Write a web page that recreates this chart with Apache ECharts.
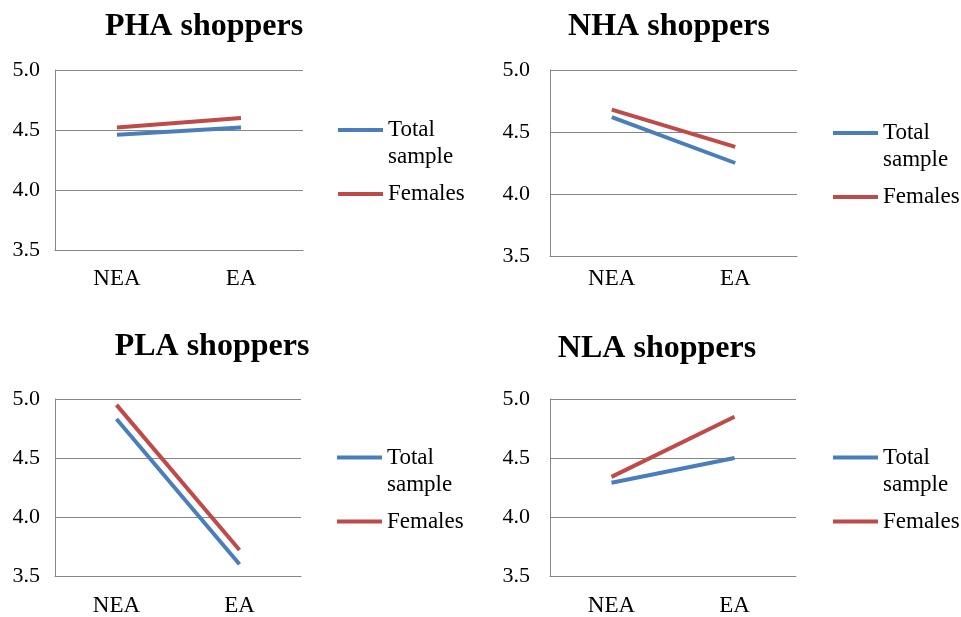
<!DOCTYPE html>
<html>
<head>
<meta charset="utf-8">
<script src="https://cdn.jsdelivr.net/npm/echarts@6/dist/echarts.min.js"></script>
<style>html,body{margin:0;padding:0;background:#fff}#c{width:961px;height:617px}</style>
</head>
<body>
<div id="c"></div>
<script>
// ---- data ----
const categories = ['NEA', 'EA'];
const yTicks = [3.5, 4.0, 4.5, 5.0];
const panelTitles = ['PHA shoppers', 'NHA shoppers', 'PLA shoppers', 'NLA shoppers'];
const seriesNames = ['Total sample', 'Females'];
const phaTotal = [4.46, 4.52];
const phaFemales = [4.52, 4.60];
const nhaTotal = [4.62, 4.25];
const nhaFemales = [4.68, 4.38];
const plaTotal = [4.83, 3.60];
const plaFemales = [4.95, 3.72];
const nlaTotal = [4.29, 4.50];
const nlaFemales = [4.34, 4.85];

const panelData = [[phaTotal, phaFemales], [nhaTotal, nhaFemales], [plaTotal, plaFemales], [nlaTotal, nlaFemales]];

// ---- layout ----
const FONT = "'Liberation Serif','Times New Roman',serif";
const GRAY = '#868686';
const COLORS = ['#4A7EBB', '#BE4B48'];
const grids = [
  {left: 55, top: 70, width: 248, height: 180},
  {left: 550, top: 70, width: 247, height: 186},
  {left: 55, top: 399, width: 246, height: 179},
  {left: 550, top: 399, width: 246, height: 179}
];
const titlePos = [{x: 204, y: 11}, {x: 669, y: 11}, {x: 212, y: 331}, {x: 657, y: 333}];
const legendPos = [{x: 338, y: 89.5}, {x: 833, y: 92.5}, {x: 337, y: 417}, {x: 833, y: 417}];
const xMargin = [17, 11, 18, 18];
const yMargin = [15, 20, 15, 20];

const option = {
  animation: false,
  backgroundColor: '#fff',
  title: panelTitles.map((t, i) => ({
    text: t, left: titlePos[i].x, top: titlePos[i].y, textAlign: 'center', padding: 0,
    textStyle: {fontFamily: FONT, fontWeight: 'bold', fontSize: 32, color: '#000'}
  })),
  grid: grids.map(g => Object.assign({containLabel: false}, g)),
  xAxis: grids.map((g, i) => ({
    type: 'category', gridIndex: i, data: categories, boundaryGap: true,
    axisLine: {show: true, lineStyle: {color: GRAY, width: 1}},
    axisTick: {show: false},
    axisLabel: {fontFamily: FONT, fontSize: 23, color: '#000', margin: xMargin[i]},
    splitLine: {show: false}
  })),
  yAxis: grids.map((g, i) => ({
    type: 'value', gridIndex: i, min: yTicks[0], max: yTicks[yTicks.length - 1], interval: 0.5,
    axisLine: {show: true, lineStyle: {color: GRAY, width: 1}},
    axisTick: {show: false},
    axisLabel: {fontFamily: FONT, fontSize: 22, color: '#000', margin: yMargin[i], formatter: v => v.toFixed(1)},
    splitLine: {show: true, lineStyle: {color: GRAY, width: 1}}
  })),
  legend: legendPos.map((p, i) => ({
    orient: 'vertical', left: p.x, top: p.y, padding: 0, itemGap: 10,
    itemWidth: 45, itemHeight: 4, icon: 'rect',
    data: seriesNames,
    formatter: n => n === 'Total sample' ? '\u00a0\nTotal\nsample' : n,
    textStyle: {fontFamily: FONT, fontSize: 23, color: '#000', lineHeight: 27}
  })),
  series: []
};

panelData.forEach((pair, i) => {
  pair.forEach((vals, k) => {
    option.series.push({
      type: 'line', name: seriesNames[k], xAxisIndex: i, yAxisIndex: i,
      data: vals, symbol: 'none', smooth: false,
      lineStyle: {color: COLORS[k], width: 4},
      itemStyle: {color: COLORS[k]}
    });
  });
});

const chart = echarts.init(document.getElementById('c'), null, {renderer: 'canvas'});
chart.setOption(option);
</script>
</body>
</html>
